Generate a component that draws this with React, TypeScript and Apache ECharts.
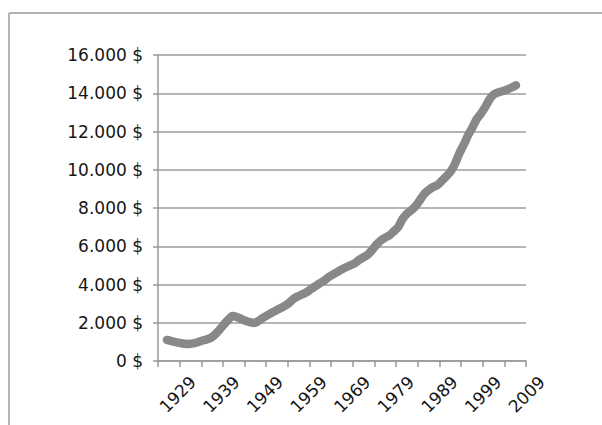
import React, { useEffect, useRef } from "react";
import * as echarts from "echarts";

const firstYear = 1929;
const values = [
  1100, 1040, 990, 940, 900, 890, 920, 980, 1060, 1120,
  1200, 1380, 1620, 1900, 2150, 2350, 2300, 2200, 2100, 2030,
  1990, 2100, 2260, 2390, 2520, 2640, 2760, 2880, 3040, 3250,
  3380, 3480, 3600, 3760, 3910, 4060, 4200, 4380, 4520, 4650,
  4780, 4900, 5000, 5100, 5280, 5420, 5560, 5800, 6080, 6300,
  6450, 6570, 6780, 7000, 7430, 7700, 7880, 8100, 8420, 8750,
  8950, 9100, 9200, 9420, 9650, 9900, 10300, 10850, 11300, 11800,
  12200, 12650, 12950, 13300, 13700, 13950, 14050, 14120, 14200, 14300,
  14420,
];
const yearLabels = [1929, 1939, 1949, 1959, 1969, 1979, 1989, 1999, 2009];
const yMin = 0;
const yMax = 16000;
const yStep = 2000;
const xMin = 1926.94;
const xMax = 2011.29;
const tickCount = 17;

const fmt = (v: number) =>
  String(v).replace(/\B(?=(\d{3})+(?!\d))/g, ".") + " $";

export default function App() {
  const ref = useRef<HTMLDivElement>(null);
  useEffect(() => {
    if (!ref.current) return;
    const chart = echarts.init(ref.current, undefined, { renderer: "svg" });
    const data = values.map((v, i) => [firstYear + i, v]);
    const ticks = Array.from({ length: tickCount + 1 }, (_, k) => xMin + (k * (xMax - xMin)) / tickCount);
    const gridTop = 55;
    const gridBottom = 64;
    chart.setOption({
      animation: false,
      backgroundColor: "#ffffff",
      textStyle: { fontFamily: "DejaVu Sans" },
      grid: [
        { left: 158, right: 76, top: gridTop, bottom: gridBottom },
        { left: 184, right: 50, top: gridTop, bottom: gridBottom },
      ],
      xAxis: [
        {
          type: "value",
          gridIndex: 0,
          min: xMin,
          max: xMax,
          axisLine: { show: true, lineStyle: { color: "#999999", width: 1.5 } },
          axisTick: { show: true, customValues: ticks, length: 6, lineStyle: { color: "#999999", width: 1.5 } },
          axisLabel: { show: false },
          splitLine: { show: false },
        },
        {
          type: "value",
          gridIndex: 1,
          min: xMin,
          max: xMax,
          axisLine: { show: false },
          axisTick: { show: false },
          splitLine: { show: false },
          axisLabel: {
            show: true,
            customValues: yearLabels,
            rotate: 45,
            margin: 18,
            fontSize: 17,
            color: "#161616",
            fontFamily: "DejaVu Sans",
            formatter: (v: number) => String(Math.round(v)),
          },
        },
      ],
      yAxis: [
        {
          type: "value",
          gridIndex: 0,
          min: yMin,
          max: yMax,
          interval: yStep,
          axisLine: { show: true, lineStyle: { color: "#999999", width: 1.5 } },
          axisTick: { show: true, length: 5, lineStyle: { color: "#999999", width: 1.5 } },
          splitLine: { show: true, lineStyle: { color: "#9c9c9c", width: 1.5 } },
          axisLabel: {
            margin: 15,
            fontSize: 17,
            color: "#161616",
            fontFamily: "DejaVu Sans",
            formatter: fmt,
          },
        },
        {
          type: "value",
          gridIndex: 1,
          min: yMin,
          max: yMax,
          show: false,
        },
      ],
      graphic: [
        { type: "line", shape: { x1: 9, y1: 13, x2: 602, y2: 13 }, style: { stroke: "#b4b4b4", lineWidth: 2 } },
        { type: "line", shape: { x1: 9, y1: 13, x2: 9, y2: 425 }, style: { stroke: "#b4b4b4", lineWidth: 2 } },
      ],
      series: [
        {
          type: "line",
          xAxisIndex: 0,
          yAxisIndex: 0,
          data,
          showSymbol: false,
          smooth: 0.2,
          lineStyle: { color: "#888888", width: 8.5, cap: "round", join: "round" },
        },
      ],
    });
    return () => chart.dispose();
  }, []);
  return (
    <div
      ref={ref}
      style={{ position: "fixed", left: 0, top: 0, width: 602, height: 425 }}
    />
  );
}
